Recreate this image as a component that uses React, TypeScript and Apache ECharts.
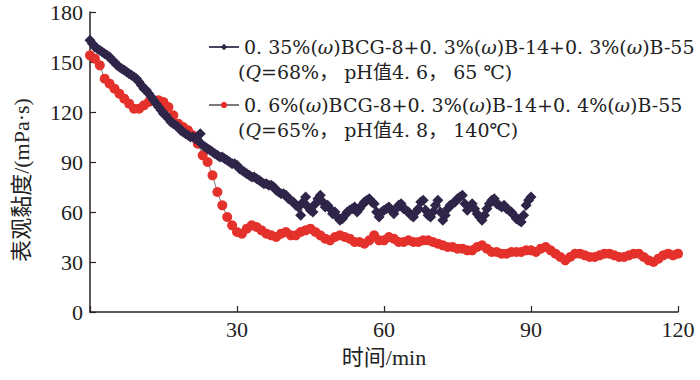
import React, { useEffect, useRef } from "react";
import * as echarts from "echarts";

const xTicks = [0, 30, 60, 90, 120];
const seriesNames = [
  "0. 35%(ω)BCG-8+0. 3%(ω)B-14+0. 3%(ω)B-55",
  "0. 6%(ω)BCG-8+0. 3%(ω)B-14+0. 4%(ω)B-55",
];
const conditionLines = [
  ["(", "Q", "=68%， pH值4. 6， 65 ℃)"],
  ["(", "Q", "=65%， pH值4. 8， 140℃)"],
];

// apparent viscosity, series 1: one reading every 0.5 min from t = 0
const purpleStep = 0.5;
const purpleValues = [
  163, 161, 159, 158, 157, 156, 155, 154, 153, 151,
  150, 148, 147, 146, 145, 144, 143, 142, 141, 140,
  138, 136, 134, 133, 131, 129, 127, 125, 123, 121,
  119, 118, 116, 114, 113, 112, 111, 109, 108, 107,
  106, 105, 105, 104, 103, 107, 100, 99, 98, 97,
  96, 95, 94, 93, 93, 92, 91, 90, 89, 89,
  88, 86, 85, 84, 83, 82, 81, 81, 80, 79,
  78, 77, 77, 76, 76, 75, 73, 72, 71, 71,
  70, 68, 67, 66, 64, 63, 58, 66, 69, 63,
  61, 60, 65, 68, 70, 66, 63, 64, 62, 59,
  60, 57, 55, 56, 58, 60, 61, 62, 63, 60,
  62, 64, 66, 67, 68, 66, 65, 60, 57, 60,
  61, 62, 63, 61, 59, 62, 64, 65, 62, 61,
  60, 58, 57, 60, 62, 66, 67, 61, 58, 57,
  60, 64, 67, 60, 55, 58, 62, 64, 65, 66,
  68, 69, 70, 65, 61, 63, 65, 62, 59, 57,
  55, 58, 62, 65, 67, 68, 65, 64, 63, 64,
  62, 61, 60, 58, 56, 55, 54, 58, 64, 67,
  69,
];

// series 2: one reading per minute from t = 0
const redStep = 1;
const redValues = [
  154, 152, 148, 140, 137, 134, 131, 128, 125, 122,
  122, 124, 126, 127, 127, 126, 123, 118, 113, 111,
  109, 106, 101, 94, 90, 82, 72, 64, 57, 52,
  48, 47, 50, 52, 51, 49, 47, 46, 45, 47,
  48, 46, 46, 48, 49, 50, 48, 46, 44, 43,
  45, 46, 45, 44, 42, 42, 41, 43, 46, 43,
  43, 45, 44, 42, 42, 43, 42, 42, 43, 43,
  42, 41, 40, 39, 39, 38, 38, 37, 37, 39,
  40, 38, 36, 36, 35, 35, 36, 36, 36, 37,
  37, 36, 38, 39, 37, 35, 33, 31, 33, 35,
  35, 34, 33, 33, 34, 35, 35, 34, 33, 33,
  34, 35, 35, 33, 31, 30, 32, 34, 35, 34,
  35,
];

const PURPLE = "#2f2549";
const RED = "#e5312b";
const AXIS = "#2a2320";
const SERIF = "'Liberation Serif', 'Noto Sans CJK SC', serif";
const LEG = "'DejaVu Serif', 'Noto Sans CJK SC', serif";

export default function App() {
  const ref = useRef<HTMLDivElement>(null);
  useEffect(() => {
    if (!ref.current) return;
    const chart = echarts.init(ref.current, undefined, { renderer: "svg" });
    const toPairs = (vals: number[], step: number) => vals.map((v, i) => [i * step, v]);
    chart.setOption({
      animation: false,
      backgroundColor: "#ffffff",
      grid: { left: 90, right: 22, top: 12, bottom: 68, containLabel: false },
      xAxis: {
        type: "value",
        min: xTicks[0],
        max: xTicks[xTicks.length - 1],
        interval: 30,
        axisLine: { show: true, lineStyle: { color: AXIS, width: 1.5 } },
        axisTick: { show: true, inside: true, length: 6, lineStyle: { color: AXIS, width: 1.2 } },
        splitLine: { show: false },
        axisLabel: {
          color: "#222",
          fontFamily: SERIF,
          fontSize: 22,
          margin: 6,
          formatter: (v: number) => (v === 0 ? "" : String(v)),
        },
        name: "时间/min",
        nameLocation: "middle",
        nameGap: 34,
        nameTextStyle: { color: "#222", fontFamily: SERIF, fontSize: 22 },
      },
      yAxis: {
        type: "value",
        min: 0,
        max: 180,
        interval: 30,
        axisLine: { show: true, lineStyle: { color: AXIS, width: 1.5 } },
        axisTick: { show: true, inside: true, length: 6, lineStyle: { color: AXIS, width: 1.2 } },
        splitLine: { show: false },
        axisLabel: { color: "#222", fontFamily: SERIF, fontSize: 22, margin: 7 },
      },
      legend: {
        orient: "vertical",
        left: 203,
        top: 32,
        itemWidth: 30,
        itemHeight: 8,
        itemGap: 38,
        formatter: (name: string) => name.replace(/ω/g, "{w|ω}"),
        textStyle: {
          color: "#222",
          fontFamily: LEG,
          fontSize: 19,
          lineHeight: 20,
          rich: { w: { fontStyle: "italic", fontFamily: LEG, fontSize: 19, color: "#222" } },
        },
        data: seriesNames,
      },
      graphic: [
        {
          type: "text",
          x: 21,
          y: 180,
          rotation: Math.PI / 2,
          style: {
            text: "表观黏度/(mPa·s)",
            fill: "#222",
            font: `22px ${SERIF}`,
            align: "center",
            verticalAlign: "middle",
          },
        },
        ...conditionLines.map((parts, i) => ({
          type: "text",
          left: 238,
          top: 62 + i * 58,
          style: {
            text: `${parts[0]}{q|${parts[1]}}${parts[2]}`,
            fill: "#222",
            font: `19px ${LEG}`,
            rich: {
              q: { fontStyle: "italic", fontFamily: LEG, fontSize: 19, fill: "#222" },
            },
          },
        })),
      ],
      series: [
        {
          name: seriesNames[0],
          type: "line",
          data: toPairs(purpleValues, purpleStep),
          symbol: "diamond",
          symbolSize: 11,
          itemStyle: { color: PURPLE },
          lineStyle: { color: "#4b4360", width: 1 },
          z: 3,
        },
        {
          name: seriesNames[1],
          type: "line",
          data: toPairs(redValues, redStep),
          symbol: "circle",
          symbolSize: 10,
          itemStyle: { color: RED },
          lineStyle: { color: "#7a7a7a", width: 1 },
          z: 2,
        },
      ],
    });
    return () => chart.dispose();
  }, []);
  return <div ref={ref} style={{ width: 700, height: 380, position: "absolute", left: 0, top: 0 }} />;
}
